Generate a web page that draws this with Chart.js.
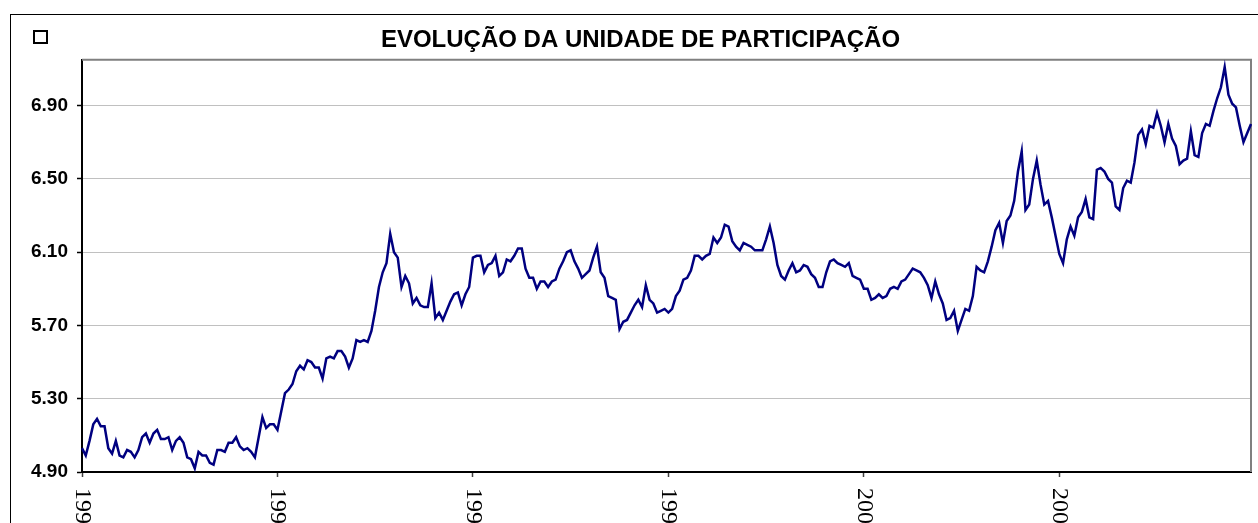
<!DOCTYPE html>
<html>
<head>
<meta charset="utf-8">
<script src="https://cdn.jsdelivr.net/npm/chart.js@4.4.1/dist/chart.umd.min.js"></script>
<style>
html,body{margin:0;padding:0;background:#fff;overflow:hidden}
canvas{display:block}
</style>
</head>
<body>
<canvas id="c" width="1258" height="523"></canvas>
<script>
// ---- data ----
const chartTitle = 'EVOLUÇÃO DA UNIDADE DE PARTICIPAÇÃO';
const yearLabels = ['1996', '1997', '1998', '1999', '2000', '2001'];
const weeksPerYear = 52;
const yTickValues = [4.90, 5.30, 5.70, 6.10, 6.50, 6.90];

const values1996 = [5.03, 4.99, 5.07, 5.16, 5.19, 5.15, 5.15, 5.03, 5.00, 5.07,
  4.99, 4.98, 5.02, 5.01, 4.98, 5.02, 5.09, 5.11, 5.06, 5.11,
  5.13, 5.08, 5.08, 5.09, 5.02, 5.07, 5.09, 5.06, 4.98, 4.97,
  4.92, 5.01, 4.99, 4.99, 4.95, 4.94, 5.02, 5.02, 5.01, 5.06,
  5.06, 5.09, 5.04, 5.02, 5.03, 5.01, 4.98, 5.09, 5.20, 5.14,
  5.16, 5.16];
const values1997 = [5.13, 5.23, 5.33, 5.35, 5.38, 5.45, 5.48, 5.46, 5.51, 5.50,
  5.47, 5.47, 5.41, 5.52, 5.53, 5.52, 5.56, 5.56, 5.53, 5.47,
  5.52, 5.62, 5.61, 5.62, 5.61, 5.67, 5.78, 5.91, 5.99, 6.04,
  6.20, 6.10, 6.07, 5.91, 5.97, 5.93, 5.82, 5.85, 5.81, 5.80,
  5.80, 5.93, 5.74, 5.77, 5.73, 5.78, 5.83, 5.87, 5.88, 5.81,
  5.87, 5.91];
const values1998 = [6.07, 6.08, 6.08, 5.99, 6.03, 6.04, 6.08, 5.97, 5.99, 6.06,
  6.05, 6.08, 6.12, 6.12, 6.01, 5.96, 5.96, 5.90, 5.94, 5.94,
  5.91, 5.94, 5.95, 6.01, 6.05, 6.10, 6.11, 6.05, 6.01, 5.96,
  5.98, 6.00, 6.07, 6.13, 5.99, 5.96, 5.86, 5.85, 5.84, 5.68,
  5.72, 5.73, 5.77, 5.81, 5.84, 5.80, 5.92, 5.84, 5.82, 5.77,
  5.78, 5.79];
const values1999 = [5.77, 5.79, 5.86, 5.89, 5.95, 5.96, 6.00, 6.08, 6.08, 6.06,
  6.08, 6.09, 6.18, 6.15, 6.18, 6.25, 6.24, 6.16, 6.13, 6.11,
  6.15, 6.14, 6.13, 6.11, 6.11, 6.11, 6.17, 6.24, 6.15, 6.03,
  5.97, 5.95, 6.00, 6.04, 5.99, 6.00, 6.03, 6.02, 5.98, 5.96,
  5.91, 5.91, 5.99, 6.05, 6.06, 6.04, 6.03, 6.02, 6.04, 5.97,
  5.96, 5.95];
const values2000 = [5.90, 5.90, 5.84, 5.85, 5.87, 5.85, 5.86, 5.90, 5.91, 5.90,
  5.94, 5.95, 5.98, 6.01, 6.00, 5.99, 5.96, 5.92, 5.85, 5.94,
  5.87, 5.82, 5.73, 5.74, 5.78, 5.67, 5.73, 5.79, 5.78, 5.86,
  6.02, 6.00, 5.99, 6.05, 6.13, 6.22, 6.26, 6.15, 6.27, 6.30,
  6.38, 6.54, 6.65, 6.33, 6.36, 6.50, 6.60, 6.47, 6.36, 6.38,
  6.29, 6.19];
const values2001 = [6.09, 6.04, 6.17, 6.24, 6.19, 6.29, 6.32, 6.39, 6.29, 6.28,
  6.55, 6.56, 6.54, 6.50, 6.48, 6.35, 6.33, 6.45, 6.49, 6.48,
  6.59, 6.74, 6.77, 6.69, 6.79, 6.78, 6.86, 6.79, 6.70, 6.80,
  6.72, 6.68, 6.58, 6.60, 6.61, 6.76, 6.63, 6.62, 6.75, 6.80,
  6.79, 6.87, 6.94, 7.00, 7.11, 6.96, 6.91, 6.89, 6.79, 6.70,
  6.75, 6.80];

// ---- build ----
const seriesValues = [].concat(values1996, values1997, values1998, values1999, values2000, values2001);
const categories = seriesValues.map((v, i) =>
  yearLabels[Math.floor(i / weeksPerYear)] + '-S' + String(i % weeksPerYear + 1).padStart(2, '0'));

Chart.defaults.font.family = '"Liberation Sans", Arial, sans-serif';
Chart.defaults.color = '#000';

const decorPlugin = {
  id: 'decor',
  beforeDraw(chart) {
    const ctx = chart.ctx;
    ctx.save();
    // outer chart box
    ctx.strokeStyle = '#000';
    ctx.lineWidth = 1;
    ctx.strokeRect(10.5, 14.5, 1300, 600);
    // empty legend key
    ctx.lineWidth = 2;
    ctx.strokeRect(34, 31, 13, 12);
    ctx.restore();
  },
  beforeDatasetsDraw(chart) {
    const a = chart.chartArea, ctx = chart.ctx;
    ctx.save();
    ctx.strokeStyle = '#808080';
    ctx.lineWidth = 2;
    ctx.beginPath();
    ctx.moveTo(a.left, a.top);
    ctx.lineTo(a.right, a.top);
    ctx.lineTo(a.right, a.bottom);
    ctx.stroke();
    ctx.restore();
  },
  afterDraw(chart) {
    const xs = chart.scales.x, ctx = chart.ctx;
    ctx.save();
    ctx.fillStyle = '#000';
    ctx.font = '24px "Liberation Serif", "Times New Roman", serif';
    ctx.textAlign = 'left';
    ctx.textBaseline = 'middle';
    yearLabels.forEach((lab, k) => {
      const px = xs.getPixelForValue(k * weeksPerYear);
      ctx.save();
      ctx.translate(px, chart.chartArea.bottom + 16);
      ctx.rotate(Math.PI / 2);
      ctx.fillText(lab, 0, 0);
      ctx.restore();
    });
    ctx.restore();
  }
};

new Chart(document.getElementById('c'), {
  type: 'line',
  data: {
    labels: categories,
    datasets: [{
      label: '',
      data: seriesValues,
      borderColor: '#000080',
      borderWidth: 2.5,
      pointRadius: 0,
      tension: 0,
      fill: false
    }]
  },
  options: {
    responsive: false,
    animation: false,
    devicePixelRatio: 1,
    layout: { padding: { left: 30, right: 7, top: 0, bottom: 0 } },
    plugins: {
      legend: { display: false },
      tooltip: { enabled: false },
      title: {
        display: true,
        text: chartTitle,
        color: '#000',
        font: { size: 24, weight: 'bold', lineHeight: 1.2 },
        padding: { top: 26, bottom: 5 }
      }
    },
    scales: {
      x: {
        type: 'category',
        offset: false,
        afterFit: s => { s.height = 51; },
        grid: {
          drawOnChartArea: false,
          drawTicks: true,
          tickLength: 5,
          tickWidth: 1.5,
          tickColor: c => (c.index % weeksPerYear === 0 ? '#404040' : 'rgba(0,0,0,0)')
        },
        border: { color: '#000', width: 2 },
        ticks: { display: false, autoSkip: false }
      },
      y: {
        type: 'linear',
        min: 4.90,
        max: 7.15,
        afterBuildTicks: s => { s.ticks = yTickValues.map(v => ({ value: v })); },
        afterFit: s => { s.width = 52; },
        grid: { color: '#c0c0c0', lineWidth: 1, tickLength: 5, tickColor: '#000', tickWidth: 1.5 },
        border: { color: '#000', width: 2 },
        ticks: {
          padding: 9,
          color: '#000',
          font: { size: 19, weight: 'bold' },
          callback: v => Number(v).toFixed(2)
        }
      }
    }
  },
  plugins: [decorPlugin]
});
</script>
</body>
</html>
